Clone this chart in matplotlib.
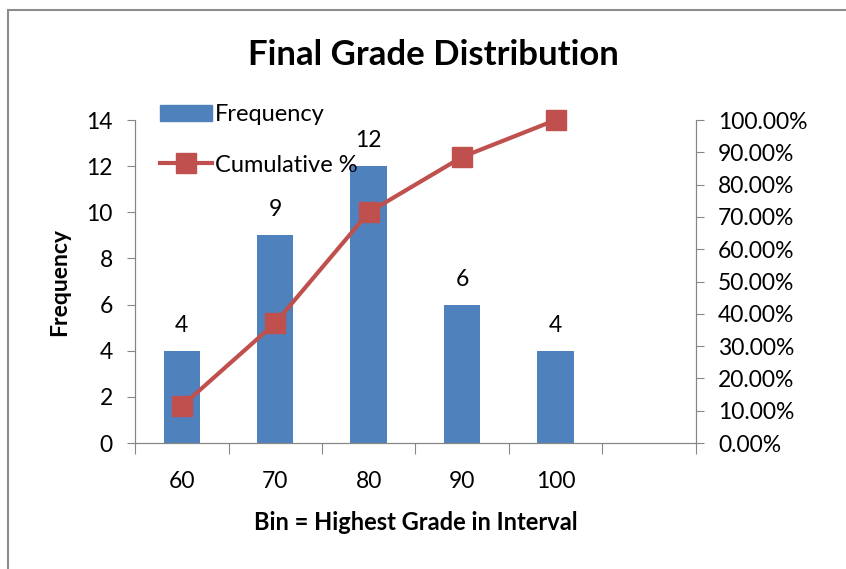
import numpy as np
import matplotlib.pyplot as plt
from matplotlib.patches import Rectangle
from matplotlib.lines import Line2D

plt.rcParams['font.family'] = ['Lato', 'DejaVu Sans']

bins = ['60', '70', '80', '90', '100', '']
frequency = [4, 9, 12, 6, 4]
cumulative = [11.43, 37.14, 71.43, 88.57, 100.0]

bar_color = '#4F81BD'
line_color = '#C0504D'
axis_color = '#868686'

fig = plt.figure(figsize=(8.46, 5.69), dpi=100)
ax = fig.add_axes([0.1596, 0.2214, 0.663, 0.5677])
ax2 = ax.twinx()

x = np.arange(len(frequency))
ax.bar(x, frequency, width=0.39, color=bar_color, zorder=2)
for xi, f in zip(x, frequency):
    ax.text(xi, f + 1.1, str(f), ha='center', va='center', fontsize=16.5)

ax2.plot(x, cumulative, color=line_color, lw=3, marker='s', ms=14,
         zorder=3, clip_on=False)

ax.set_xlim(-0.5, len(bins) - 0.5)
ax.set_ylim(0, 14)
ax.set_yticks(range(0, 15, 2))
ax2.set_ylim(0, 100)
ax2.set_yticks(range(0, 101, 10))
ax2.set_yticklabels(['%.2f%%' % v for v in range(0, 101, 10)])

ax.set_xticks(np.arange(-0.5, len(bins), 1.0))
ax.set_xticklabels([])
ax.set_xticks(np.arange(len(bins)), minor=True)
ax.set_xticklabels(bins, minor=True)
ax.tick_params(axis='x', which='major', length=8, color=axis_color, direction='out')
ax.tick_params(axis='x', which='minor', length=0, pad=20, labelsize=16.5)
ax.tick_params(axis='y', length=6, color=axis_color, labelsize=16.5, pad=10)
ax2.tick_params(axis='y', length=6, color=axis_color, labelsize=16.5, pad=10)

for a in (ax, ax2):
    a.spines['top'].set_visible(False)
    for s in ('left', 'right', 'bottom'):
        a.spines[s].set_color(axis_color)
ax2.set_zorder(ax.get_zorder() + 1)
ax2.patch.set_visible(False)

ax.set_ylabel('Frequency', fontsize=16.5, fontweight='bold', labelpad=12)
ax.set_xlabel('Bin = Highest Grade in Interval', fontsize=17, fontweight='bold', labelpad=14)
fig.text(0.512, 0.903, 'Final Grade Distribution', ha='center', va='center',
         fontsize=25, fontweight='bold')

handles = [Rectangle((0, 0), 1, 1, color=bar_color),
           Line2D([0], [0], color=line_color, lw=3, marker='s', ms=14)]
ax.legend(handles, ['Frequency', 'Cumulative %'], loc='upper left',
          bbox_to_anchor=(0.007, 1.115), frameon=False, fontsize=17,
          handlelength=2.2, handletextpad=0.1, labelspacing=1.25)

fig.add_artist(Rectangle((8 / 846, -0.1), 1.2, 1 - 10 / 569 + 0.1,
                         transform=fig.transFigure, fill=False,
                         edgecolor='#8c8c8c', lw=1.5))

fig.savefig('out.png', dpi=100)
